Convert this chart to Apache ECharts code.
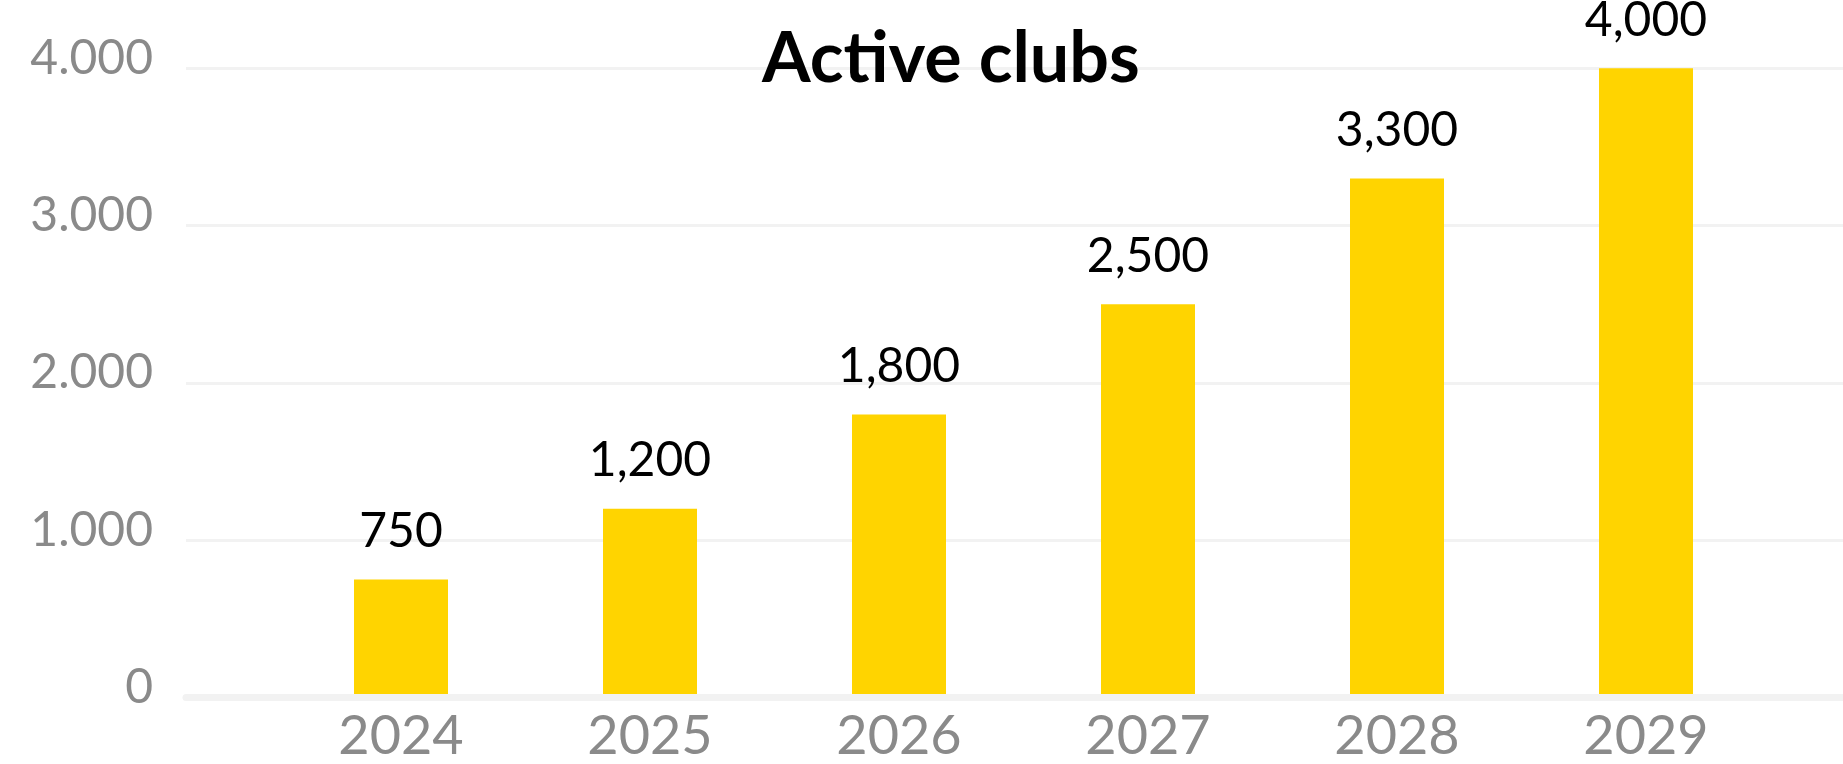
<!DOCTYPE html>
<html>
<head>
<meta charset="utf-8">
<title>Active clubs</title>
<script src="https://cdn.jsdelivr.net/npm/echarts@6/dist/echarts.min.js"></script>
<style>
  html, body { margin: 0; padding: 0; background: #ffffff; }
  #chart { width: 1843px; height: 764px; }
</style>
</head>
<body>
<div id="chart"></div>
<script>
// Yearly count of active clubs
const years = ['2024', '2025', '2026', '2027', '2028', '2029'];
const activeClubs = [750, 1200, 1800, 2500, 3300, 4000];
const yTicks = [0, 1000, 2000, 3000, 4000];

const FONT = 'Lato';
const GREY = '#8a8a8a';
const LINE = '#f2f2f2';
const BAR = '#ffd400';

const yMin = yTicks[0];
const yMax = yTicks[yTicks.length - 1];
const yStep = yTicks[1] - yTicks[0];

// value labels use a comma, axis labels a dot as thousands separator
const withSep = (v, sep) => String(v).replace(/\B(?=(\d{3})+(?!\d))/g, sep);

const chart = echarts.init(document.getElementById('chart'), null, { renderer: 'canvas' });

chart.setOption({
  animation: false,
  backgroundColor: '#ffffff',
  title: {
    text: 'Active clubs',
    left: 762,
    top: 24,
    padding: 0,
    textStyle: { fontFamily: FONT, fontWeight: 'bold', fontSize: 70, color: '#000000' }
  },
  grid: [
    // bars
    { left: 276.5, width: 1494, top: 68.3, bottom: 66.4 },
    // full-width gridlines, value axis and baseline
    { left: 186, right: 0, top: 68.3, bottom: 66.4 }
  ],
  xAxis: [
    {
      type: 'category',
      gridIndex: 0,
      data: years,
      boundaryGap: true,
      axisLine: { show: false },
      axisTick: { show: false },
      axisLabel: { fontFamily: FONT, fontSize: 54, color: GREY, margin: 12 }
    },
    {
      type: 'value',
      gridIndex: 1,
      min: 0,
      max: 1,
      z: 5,
      axisLine: { show: true, lineStyle: { color: LINE, width: 7 } },
      axisTick: { show: false },
      axisLabel: { show: false },
      splitLine: { show: false }
    }
  ],
  yAxis: [
    {
      type: 'value',
      gridIndex: 0,
      min: yMin,
      max: yMax,
      interval: yStep,
      axisLine: { show: false },
      axisTick: { show: false },
      axisLabel: { show: false },
      splitLine: { show: false }
    },
    {
      type: 'value',
      gridIndex: 1,
      min: yMin,
      max: yMax,
      interval: yStep,
      axisLine: { show: false },
      axisTick: { show: false },
      axisLabel: {
        fontFamily: FONT,
        fontSize: 48,
        color: GREY,
        margin: 33,
        verticalAlign: 'bottom',
        lineHeight: 20,
        formatter: v => withSep(v, '.')
      },
      splitLine: { show: true, lineStyle: { color: LINE, width: 3 } }
    }
  ],
  series: [
    {
      type: 'bar',
      xAxisIndex: 0,
      yAxisIndex: 0,
      data: activeClubs,
      barWidth: 94,
      itemStyle: { color: BAR },
      label: {
        show: true,
        position: 'top',
        distance: 24,
        fontFamily: FONT,
        fontSize: 48,
        color: '#000000',
        formatter: p => withSep(p.value, ',')
      }
    }
  ]
});
</script>
</body>
</html>
